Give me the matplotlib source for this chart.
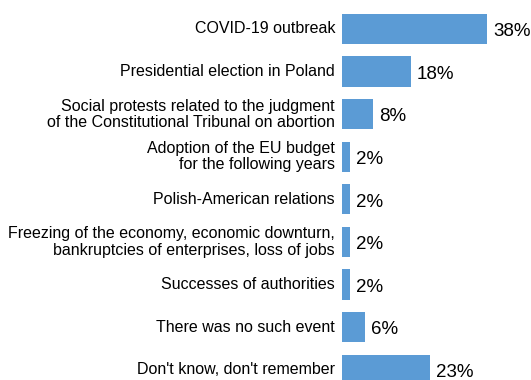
import matplotlib
matplotlib.use("Agg")
import matplotlib.pyplot as plt

plt.rcParams['font.family'] = ['Liberation Sans', 'DejaVu Sans']

categories = [
    "COVID-19 outbreak",
    "Presidential election in Poland",
    "Social protests related to the judgment\nof the Constitutional Tribunal on abortion",
    "Adoption of the EU budget\nfor the following years",
    "Polish-American relations",
    "Freezing of the economy, economic downturn,\nbankruptcies of enterprises, loss of jobs",
    "Successes of authorities",
    "There was no such event",
    "Don't know, don't remember",
]
values = [38, 18, 8, 2, 2, 2, 2, 6, 23]

fig = plt.figure(figsize=(5.31, 3.80), dpi=100)
ax = fig.add_axes([0.644, 0.0, 0.356, 1.0])

pos = list(range(len(categories)))
ax.barh(pos, values, height=0.71, color="#5B9BD5")

ax.set_xlim(0, 49.5)
ax.set_ylim(8.24, -0.68)

for p, v, c in zip(pos, values, categories):
    ax.annotate(f"{v}%", xy=(v, p), xytext=(4.5, -2), textcoords="offset points",
                ha="left", va="center", fontsize=13.5, color="black")
    ax.annotate(c, xy=(0, p), xytext=(-5, 0), textcoords="offset points",
                ha="right", va="center", fontsize=11.5, color="black",
                linespacing=1.1, annotation_clip=False)

ax.set_xticks([])
ax.set_yticks([])
for s in ax.spines.values():
    s.set_visible(False)

fig.savefig("out.png", dpi=100)
